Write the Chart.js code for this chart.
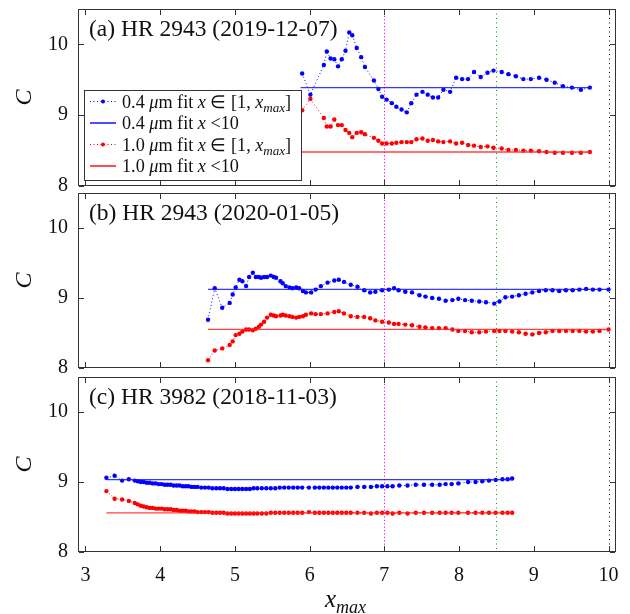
<!DOCTYPE html>
<html><head><meta charset="utf-8">
<script src="https://cdn.jsdelivr.net/npm/chart.js@4.4.1/dist/chart.umd.min.js"></script>
<style>
html,body{margin:0;padding:0;background:#fff;}
#wrap{position:relative;width:630px;height:614px;overflow:hidden;}
canvas{position:absolute;left:0;top:0;}
</style></head><body>
<div id="wrap">
<canvas id="ca" width="630" height="614"></canvas>
<canvas id="cb" width="630" height="614"></canvas>
<canvas id="cc" width="630" height="614"></canvas>
</div>
<script>
// ---------- data ----------
const xTicks = [3, 4, 5, 6, 7, 8, 9, 10];
const yTicks = [8, 9, 10];
const markLines = [7, 8.5, 10];

// panel (a) HR 2943 (2019-12-07)
const xA = [5.90,6.01,6.19,6.23,6.28,6.33,6.38,6.43,6.48,6.53,6.57,6.63,6.69,6.74,6.86,6.92,6.97,7.03,7.10,7.16,7.23,7.30,7.36,7.43,7.51,7.58,7.65,7.72,7.79,7.88,7.96,8.04,8.12,8.20,8.29,8.38,8.46,8.57,8.66,8.76,8.86,8.96,9.07,9.17,9.28,9.39,9.51,9.63,9.75];
const blueA = [9.59,9.29,9.71,9.90,9.80,9.79,9.69,9.79,9.91,10.17,10.13,9.95,9.82,9.68,9.49,9.37,9.26,9.22,9.17,9.12,9.08,9.04,9.17,9.29,9.33,9.29,9.25,9.25,9.36,9.33,9.53,9.51,9.51,9.61,9.54,9.60,9.63,9.61,9.58,9.55,9.51,9.51,9.53,9.50,9.46,9.41,9.39,9.36,9.39];
const redA = [9.07,9.23,8.96,8.84,8.84,8.94,8.86,8.86,8.79,8.75,8.69,8.75,8.76,8.73,8.68,8.64,8.60,8.60,8.60,8.61,8.62,8.62,8.62,8.66,8.67,8.64,8.65,8.63,8.62,8.63,8.60,8.61,8.58,8.57,8.55,8.56,8.54,8.53,8.51,8.51,8.50,8.50,8.49,8.48,8.47,8.47,8.47,8.47,8.48];
const fitXA = [5.88, 9.77];
const fitBlueA = 9.39;
const fitRedA = 8.48;

// panel (b) HR 2943 (2020-01-05)
const xB = [4.64,4.73,4.83,4.93,4.97,5.01,5.06,5.10,5.15,5.19,5.24,5.28,5.32,5.35,5.39,5.43,5.48,5.52,5.55,5.61,5.64,5.68,5.73,5.77,5.82,5.86,5.91,5.95,6.02,6.08,6.15,6.24,6.33,6.39,6.46,6.55,6.64,6.73,6.81,6.88,6.97,7.06,7.13,7.19,7.28,7.37,7.47,7.55,7.64,7.73,7.82,7.91,7.99,8.08,8.17,8.27,8.36,8.47,8.54,8.62,8.71,8.80,8.89,8.98,9.07,9.16,9.25,9.34,9.43,9.52,9.61,9.70,9.79,9.88,10.00];
const blueB = [8.69,9.14,8.86,8.93,9.05,9.15,9.26,9.24,9.17,9.30,9.36,9.30,9.30,9.29,9.30,9.30,9.32,9.30,9.29,9.24,9.21,9.17,9.15,9.14,9.15,9.14,9.10,9.08,9.08,9.12,9.17,9.22,9.25,9.26,9.23,9.19,9.16,9.11,9.08,9.09,9.11,9.12,9.14,9.11,9.09,9.08,9.04,9.02,9.00,8.99,8.96,8.97,8.99,8.97,8.96,8.95,8.94,8.92,8.95,9.01,9.02,9.04,9.06,9.08,9.10,9.11,9.11,9.10,9.11,9.11,9.12,9.13,9.12,9.12,9.12];
const redB = [8.11,8.25,8.28,8.33,8.38,8.47,8.49,8.52,8.55,8.55,8.54,8.56,8.59,8.62,8.66,8.72,8.76,8.75,8.74,8.75,8.76,8.75,8.74,8.73,8.72,8.73,8.74,8.76,8.78,8.77,8.77,8.78,8.80,8.81,8.78,8.74,8.73,8.73,8.71,8.68,8.66,8.65,8.63,8.63,8.62,8.61,8.59,8.58,8.57,8.57,8.57,8.55,8.53,8.53,8.51,8.51,8.52,8.53,8.53,8.53,8.52,8.51,8.49,8.48,8.50,8.51,8.53,8.53,8.53,8.53,8.53,8.52,8.52,8.53,8.55];
const fitXB = [4.64, 10.0];
const fitBlueB = 9.124;
const fitRedB = 8.553;

// panel (c) HR 3982 (2018-11-03)
const xC = [3.28,3.39,3.49,3.58,3.66,3.70,3.74,3.78,3.82,3.86,3.90,3.94,3.98,4.02,4.06,4.10,4.14,4.18,4.22,4.26,4.30,4.34,4.38,4.42,4.46,4.50,4.55,4.60,4.65,4.70,4.75,4.80,4.85,4.90,4.95,5.00,5.05,5.10,5.15,5.20,5.25,5.30,5.36,5.42,5.48,5.54,5.60,5.66,5.72,5.78,5.84,5.90,5.99,6.07,6.13,6.19,6.25,6.31,6.37,6.43,6.49,6.55,6.64,6.73,6.82,6.90,6.97,7.04,7.11,7.20,7.31,7.42,7.53,7.64,7.74,7.82,7.90,7.99,8.12,8.22,8.31,8.40,8.49,8.58,8.65,8.71];
const blueC = [9.06,9.09,9.02,9.04,9.02,9.01,9.00,9.00,8.99,8.99,8.98,8.98,8.97,8.97,8.96,8.96,8.96,8.95,8.95,8.95,8.94,8.94,8.94,8.93,8.93,8.93,8.92,8.92,8.92,8.91,8.91,8.91,8.91,8.90,8.90,8.90,8.90,8.90,8.90,8.90,8.91,8.91,8.91,8.91,8.91,8.91,8.92,8.92,8.92,8.92,8.92,8.92,8.92,8.92,8.92,8.92,8.92,8.92,8.92,8.92,8.92,8.92,8.93,8.93,8.93,8.94,8.94,8.94,8.94,8.95,8.95,8.96,8.96,8.96,8.96,8.97,8.97,8.98,9.00,9.00,9.01,9.02,9.03,9.04,9.04,9.05];
const redC = [8.87,8.76,8.75,8.73,8.70,8.68,8.66,8.65,8.64,8.63,8.63,8.62,8.62,8.62,8.61,8.61,8.61,8.60,8.60,8.59,8.59,8.59,8.58,8.58,8.58,8.57,8.57,8.57,8.57,8.56,8.56,8.56,8.56,8.55,8.55,8.55,8.55,8.55,8.55,8.55,8.55,8.55,8.55,8.55,8.56,8.56,8.56,8.56,8.56,8.56,8.56,8.56,8.57,8.56,8.56,8.56,8.56,8.56,8.56,8.56,8.56,8.56,8.56,8.56,8.55,8.56,8.56,8.56,8.55,8.56,8.55,8.56,8.56,8.56,8.56,8.56,8.56,8.56,8.56,8.56,8.56,8.56,8.56,8.56,8.56,8.56];
const fitXC = [3.28, 8.71];
const fitBlueC = 9.035;
const fitRedC = 8.56;

// ---------- styling ----------
const SERIF = '"Liberation Serif", "Times New Roman", serif';
const INK = '#333333';
const BLUE = '#0000ff', RED = '#ff0000';

function richText(ctx, x, y, segs, size) {
  let cx = x;
  for (const s of segs) {
    const fs = s.sub ? size * 0.72 : size;
    ctx.font = (s.it ? 'italic ' : '') + fs + 'px ' + SERIF;
    ctx.fillText(s.t, cx, y + (s.sub ? size * 0.22 : 0));
    cx += ctx.measureText(s.t).width;
  }
  return cx - x;
}

function legendBox(ctx) {
  const L = 84, T = 90, W = 218, H = 91;
  ctx.save();
  ctx.fillStyle = '#fff';
  ctx.fillRect(L, T, W, H);
  ctx.fillStyle = INK;
  ctx.fillRect(L, T, W, 1); ctx.fillRect(L, T + H - 1, W, 1);
  ctx.fillRect(L, T, 1, H); ctx.fillRect(L + W - 1, T, 1, H);
  const rows = [
    {c: BLUE, dot: true, w: '0.4', range: true},
    {c: BLUE, dot: false, w: '0.4', range: false},
    {c: RED, dot: true, w: '1.0', range: true},
    {c: RED, dot: false, w: '1.0', range: false}
  ];
  rows.forEach((r, i) => {
    const y = 101.5 + i * 21.5;
    ctx.strokeStyle = r.c; ctx.fillStyle = r.c;
    ctx.lineWidth = r.dot ? 1 : 1.4;
    ctx.setLineDash(r.dot ? [1, 2.5] : []);
    ctx.beginPath(); ctx.moveTo(90, y); ctx.lineTo(116, y); ctx.stroke();
    ctx.setLineDash([]);
    if (r.dot) { ctx.beginPath(); ctx.arc(103, y, 2, 0, Math.PI * 2); ctx.fill(); }
    ctx.fillStyle = '#111'; ctx.textBaseline = 'alphabetic'; ctx.textAlign = 'left';
    const segs = [{t: r.w + ' '}, {t: 'μ', it: true}, {t: 'm fit '}, {t: 'x', it: true}];
    if (r.range) segs.push({t: ' ∈ [1, '}, {t: 'x', it: true}, {t: 'max', it: true, sub: true}, {t: ']'});
    else segs.push({t: ' <10'});
    richText(ctx, 122, y + 6, segs, 18.2);
  });
  ctx.restore();
}

function drawFrame(chart) {
  const ctx = chart.ctx, a = chart.chartArea, sx = chart.scales.x, sy = chart.scales.y;
  ctx.save();
  ctx.fillStyle = INK;
  const w = a.right - a.left, h = a.bottom - a.top;
  ctx.fillRect(a.left, a.top, w, 1);
  ctx.fillRect(a.left, a.bottom - 1, w, 1);
  ctx.fillRect(a.left, a.top, 1, h);
  ctx.fillRect(a.right - 1, a.top, 1, h);
  for (const v of xTicks) {
    const px = Math.round(sx.getPixelForValue(v));
    ctx.fillRect(px, a.bottom - 6, 1, 5);
    ctx.fillRect(px, a.top + 1, 1, 5);
  }
  for (const v of yTicks) {
    const py = Math.round(sy.getPixelForValue(v));
    ctx.fillRect(a.left + 1, py, 5, 1);
    ctx.fillRect(a.right - 6, py, 5, 1);
  }
  ctx.restore();
}

function makeFrame(title, isLegend, isBottom) {
  return {
    id: 'panelframe',
    beforeDatasetsDraw(chart) {
      const ctx = chart.ctx, a = chart.chartArea, sx = chart.scales.x;
      ctx.save();
      const cols = ['#ff00ff', '#00a000', '#000000'];
      const dashes = [[1.2, 2.2], [1, 3.5], [1, 3.5]];
      markLines.forEach((v, i) => {
        const px = Math.round(sx.getPixelForValue(v)) + 0.5;
        ctx.strokeStyle = cols[i]; ctx.lineWidth = 1;
        ctx.setLineDash(dashes[i]);
        ctx.beginPath(); ctx.moveTo(px, a.top); ctx.lineTo(px, a.bottom); ctx.stroke();
      });
      ctx.restore();
    },
    afterDraw(chart) {
      const ctx = chart.ctx, a = chart.chartArea;
      ctx.save();
      ctx.fillStyle = '#111'; ctx.textAlign = 'left'; ctx.textBaseline = 'alphabetic';
      ctx.font = '23.5px ' + SERIF;
      ctx.fillText(title, 89, a.top + 27);
      ctx.save();
      ctx.translate(31, (a.top + a.bottom) / 2);
      ctx.rotate(-Math.PI / 2);
      ctx.textAlign = 'center';
      ctx.font = 'italic 24px ' + SERIF;
      ctx.fillText('C', 0, 0);
      ctx.restore();
      if (isLegend) legendBox(ctx);
      if (isBottom) {
        ctx.fillStyle = '#111';
        richText(ctx, 325, 607, [{t: 'x', it: true}, {t: 'max', it: true, sub: true}], 25);
      }
      ctx.restore();
      drawFrame(chart);
    }
  };
}

function pts(xs, ys) { return xs.map((v, i) => ({x: v, y: ys[i]})); }
function fit(xr, v) { return [{x: xr[0], y: v}, {x: xr[1], y: v}]; }

function makeChart(id, title, xs, blue, red, fitX, fb, fr, top, bottom, isLegend, isBottom) {
  const ds = [
    {data: fit(fitX, fb), borderColor: 'rgba(20,20,255,0.85)', borderWidth: 1.3, pointRadius: 0, showLine: true},
    {data: fit(fitX, fr), borderColor: 'rgba(255,30,30,0.85)', borderWidth: 1.3, pointRadius: 0, showLine: true},
    {data: pts(xs, blue), borderColor: BLUE, borderWidth: 1, borderDash: [1, 2.5], showLine: true,
     pointRadius: 2.2, pointBackgroundColor: BLUE, pointBorderWidth: 0},
    {data: pts(xs, red), borderColor: RED, borderWidth: 1, borderDash: [1, 2.5], showLine: true,
     pointRadius: 2.2, pointBackgroundColor: RED, pointBorderWidth: 0}
  ];
  const xAxisH = 40;
  return new Chart(document.getElementById(id), {
    type: 'scatter',
    data: {datasets: ds},
    options: {
      responsive: false, animation: false, devicePixelRatio: 1,
      layout: {autoPadding: false, padding: {left: 0, right: 14, top: top, bottom: isBottom ? 614 - bottom - xAxisH : 614 - bottom}},
      plugins: {legend: {display: false}, tooltip: {enabled: false}},
      scales: {
        x: {
          type: 'linear', min: 2.9, max: 10.1, display: isBottom,
          afterBuildTicks: s => { s.ticks = xTicks.map(v => ({value: v})); },
          afterFit: s => { if (isBottom) s.height = xAxisH; s.paddingLeft = 0; s.paddingRight = 0; },
          grid: {display: false, drawTicks: false}, border: {display: false},
          ticks: {color: '#111', padding: 12, font: {family: SERIF, size: 20}, callback: v => String(v)}
        },
        y: {
          type: 'linear', min: 8, max: 10.5,
          afterBuildTicks: s => { s.ticks = yTicks.map(v => ({value: v})); },
          afterFit: s => { s.width = 78; s.paddingTop = 0; s.paddingBottom = 0; },
          grid: {display: false, drawTicks: false}, border: {display: false},
          ticks: {color: '#111', padding: 10, font: {family: SERIF, size: 20}, callback: v => String(v)}
        }
      }
    },
    plugins: [makeFrame(title, isLegend, isBottom)]
  });
}

makeChart('ca', '(a) HR 2943 (2019-12-07)', xA, blueA, redA, fitXA, fitBlueA, fitRedA, 9, 186, true, false);
makeChart('cb', '(b) HR 2943 (2020-01-05)', xB, blueB, redB, fitXB, fitBlueB, fitRedB, 193, 368, false, false);
makeChart('cc', '(c) HR 3982 (2018-11-03)', xC, blueC, redC, fitXC, fitBlueC, fitRedC, 377, 552, false, true);
</script>
</body></html>
